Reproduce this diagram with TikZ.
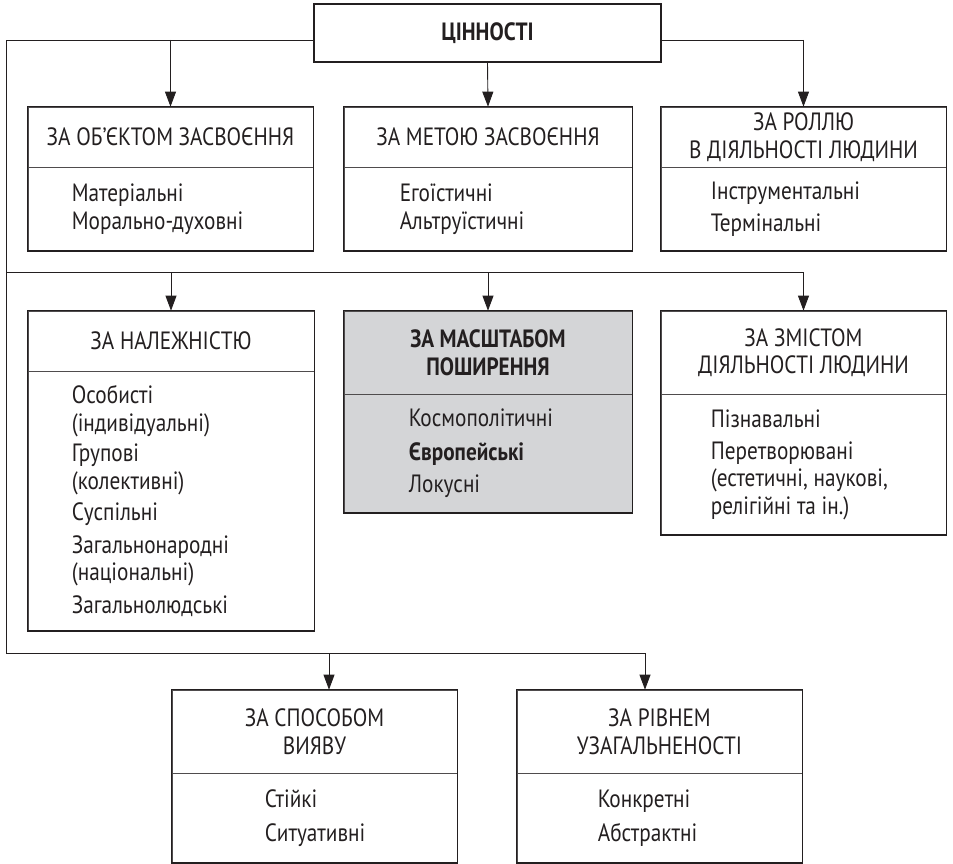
\documentclass[tikz,border=0pt]{standalone}
\usepackage{fontspec}
\setmainfont{PT Sans}[FakeStretch=0.85]
\usetikzlibrary{arrows.meta, positioning}
\definecolor{boxgray}{RGB}{212,213,215}
\definecolor{ink}{RGB}{35,31,32}

\begin{document}
\begin{tikzpicture}[x=1pt, y=-1pt,
            every node/.style={font=\fontsize{25}{27.5}\selectfont, text=ink},
            hdr/.style={rectangle, draw=ink!80, line width=0.7pt, inner sep=0pt, align=center},
            body/.style={rectangle, draw=ink!80, line width=0.7pt, inner sep=0pt, anchor=north},
            items/.style={inner sep=0pt, align=left, anchor=west},
            frame/.style={draw=ink, line width=1.4pt},
            link/.style={draw=ink, line width=0.9pt},
            arr/.style={link, -{Triangle[length=15pt, width=11pt]}}
        ]
\useasboundingbox (0,0) rectangle (953,864);

% Root
            \node[hdr, frame, minimum width=347pt, minimum height=58pt, font=\fontsize{25}{27.5}\selectfont\bfseries] (hT) at (487.5,33) {ЦІННОСТІ};

% Row 1
            \node[hdr, minimum width=285pt, minimum height=60pt] (hA) at (170.5,137) {ЗА ОБ'ЄКТОМ ЗАСВОЄННЯ};
            \node[body, minimum width=285pt, minimum height=83pt] (bA) at (hA.south) {};
            \node[items] (lA) at ([xshift=44pt]bA.west) {Матеріальні\\ Морально-духовні};

            \node[hdr, minimum width=288pt, minimum height=60pt] (hB) at (488,137) {ЗА МЕТОЮ ЗАСВОЄННЯ};
            \node[body, minimum width=288pt, minimum height=83pt] (bB) at (hB.south) {};
            \node[items] (lB) at ([xshift=56pt]bB.west) {Егоїстичні\\ Альтруїстичні};

            \node[hdr, minimum width=285pt, minimum height=60pt] (hC) at (803.5,137) {ЗА РОЛЛЮ\\ В ДІЯЛЬНОСТІ ЛЮДИНИ};
            \node[body, minimum width=285pt, minimum height=83pt] (bC) at (hC.south) {};
            \node[items] (lC) at ([xshift=50pt]bC.west) {Інструментальні\\[4pt] Термінальні};

% Row 2
            \node[hdr, minimum width=286pt, minimum height=60pt] (hD) at (171,341) {ЗА НАЛЕЖНІСТЮ};
            \node[body, minimum width=286pt, minimum height=259pt] (bD) at (hD.south) {};
            \node[items] (lD) at ([xshift=44pt]bD.west) {Особисті\\ (індивідуальні)\\[3pt] Групові\\ (колективні)\\[4pt] Суспільні\\[5pt] Загальнонародні\\ (національні)\\[5pt] Загальнолюдські};

            \node[hdr, fill=boxgray, minimum width=288pt, minimum height=83pt, font=\fontsize{25}{27.5}\selectfont\bfseries] (hE) at (488,352.5) {ЗА МАСШТАБОМ\\ ПОШИРЕННЯ};
            \node[body, fill=boxgray, minimum width=288pt, minimum height=118pt] (bE) at (hE.south) {};
            \node[items] (lE) at ([xshift=65pt]bE.west) {Космополітичні\\[6pt] \textbf{Європейські}\\[5pt] Локусні};

            \node[hdr, minimum width=285pt, minimum height=83pt] (hF) at (803.5,352.5) {ЗА ЗМІСТОМ\\ ДІЯЛЬНОСТІ ЛЮДИНИ};
            \node[body, minimum width=285pt, minimum height=140pt] (bF) at (hF.south) {};
            \node[items] (lF) at ([xshift=50pt]bF.west) {Пізнавальні\\[4pt] Перетворювані\\ (естетичні, наукові,\\ релігійні та ін.)};

% Row 3
            \node[hdr, minimum width=285pt, minimum height=83pt] (hG) at (314.5,731.5) {ЗА СПОСОБОМ\\ ВИЯВУ};
            \node[body, minimum width=285pt, minimum height=89pt] (bG) at (hG.south) {};
            \node[items] (lG) at ([xshift=93pt]bG.west) {Стійкі\\[7pt] Ситуативні};

            \node[hdr, minimum width=285pt, minimum height=83pt] (hH) at (659.5,731.5) {ЗА РІВНЕМ\\ УЗАГАЛЬНЕНОСТІ};
            \node[body, minimum width=285pt, minimum height=89pt] (bH) at (hH.south) {};
            \node[items] (lH) at ([xshift=81pt]bH.west) {Конкретні\\[7pt] Абстрактні};

% Outer frames
            \draw[frame] (hA.north west) rectangle (bA.south east);
            \draw[frame] (hB.north west) rectangle (bB.south east);
            \draw[frame] (hC.north west) rectangle (bC.south east);
            \draw[frame] (hD.north west) rectangle (bD.south east);
            \draw[frame] (hE.north west) rectangle (bE.south east);
            \draw[frame] (hF.north west) rectangle (bF.south east);
            \draw[frame] (hG.north west) rectangle (bG.south east);
            \draw[frame] (hH.north west) rectangle (bH.south east);

% Junctions
            \coordinate (jTop) at (6,40);
            \coordinate (jMid) at (6,272);
            \coordinate (jBot) at (6,653);
            \coordinate (jA) at (170.5,40);
            \coordinate (jC) at (803.5,40);
            \coordinate (jD) at (171,272);
            \coordinate (jE) at (488,272);
            \coordinate (jF) at (803.5,272);
            \coordinate (jG) at (329,653);
            \coordinate (jH) at (645,653);

% Connectors
            \draw[link] ([yshift=-7pt]hT.west) -- (jTop) -- (jBot) -- (jH);
            \draw[link] (jMid) -- (jF);
            \draw[link] ([yshift=-7pt]hT.east) -- (jC);
            \draw[arr] (jA) -- (hA.north);
            \draw[arr] (hT.south) -- (hB.north);
            \draw[arr] (jC) -- (hC.north);
            \draw[arr] (jD) -- (hD.north);
            \draw[arr] (jE) -- (hE.north);
            \draw[arr] (jF) -- (hF.north);
            \draw[arr] (jG) -- (jG |- hG.north);
            \draw[arr] (jH) -- (jH |- hH.north);

        \end{tikzpicture}
\end{document}
